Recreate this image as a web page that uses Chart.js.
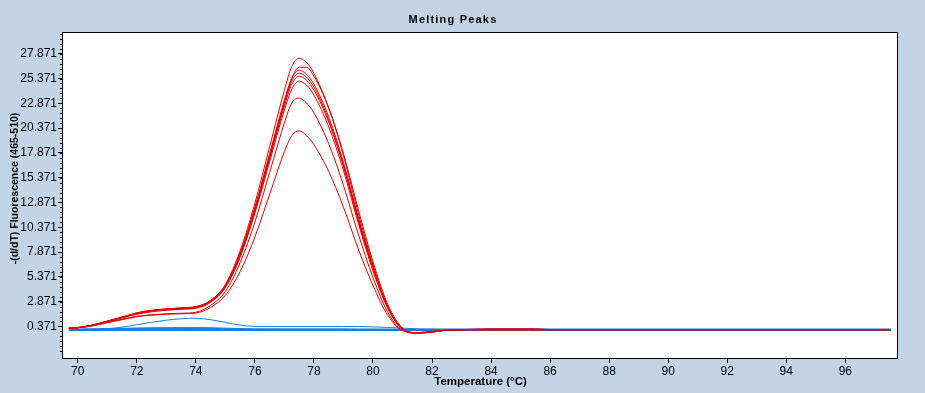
<!DOCTYPE html>
<html>
<head>
<meta charset="utf-8">
<script src="https://cdn.jsdelivr.net/npm/chart.js@4.4.1/dist/chart.umd.min.js"></script>
<style>
  html, body { margin: 0; padding: 0; background: #c3d4e4; }
  #wrap { width: 925px; height: 393px; }
</style>
</head>
<body>
<div id="wrap"><canvas id="cv" width="925" height="393"></canvas></div>
<script>
// temperature samples (deg C)
var redTemps = [69.7, 70, 70.5, 71, 71.5, 72, 72.5, 73, 73.5, 74,
  74.5, 75, 75.5, 76, 76.5, 77, 77.25, 77.5, 77.75, 78, 78.5, 79, 79.5, 80, 80.5, 81, 81.5, 82, 82.5,
  83, 84, 85.5, 86, 97.5];
var blueTemps = [69.7, 70, 70.5, 71, 71.5, 72, 72.5, 73, 73.5, 74, 74.5, 75, 75.5, 76, 77, 78, 79, 80, 81, 82, 83, 97.55];

// -(d/dT) values, red samples
var red1 = [0.2, 0.25, 0.5, 0.9, 1.3, 1.72, 1.98, 2.12, 2.22, 2.35,
  3.0, 4.6, 8.0, 12.8, 18.5, 24.2, 26.6, 27.4, 27.0, 25.9, 22.4, 17.6, 11.8, 6.6, 2.4, 0.1, -0.3, -0.2, 0.0,
  0.05, 0.05, 0.05, 0.05, 0.05];
var red2 = [0.22, 0.27, 0.52, 0.92, 1.32, 1.75, 2.0, 2.15, 2.25, 2.38,
  2.9, 4.3, 7.4, 12.0, 17.5, 23.0, 25.4, 26.5, 26.5, 25.6, 22.4, 17.8, 12.2, 6.9, 2.6, 0.2, -0.3, -0.2, 0.0,
  0.05, 0.15, 0.15, 0.05, 0.05];
var red3 = [0.18, 0.24, 0.48, 0.88, 1.28, 1.68, 1.95, 2.1, 2.2, 2.32,
  3.0, 4.5, 7.8, 12.4, 17.8, 23.2, 25.4, 26.2, 25.8, 24.8, 21.5, 16.9, 11.4, 6.4, 2.3, 0.1, -0.3, -0.15, 0.0,
  0.05, 0.05, 0.05, 0.05, 0.05];
var red4 = [0.2, 0.26, 0.5, 0.9, 1.3, 1.7, 1.96, 2.1, 2.2, 2.3,
  2.9, 4.4, 7.6, 12.2, 17.6, 22.9, 25.1, 25.9, 25.5, 24.5, 21.2, 16.7, 11.2, 6.3, 2.3, 0.1, -0.3, -0.2, 0.0,
  0.05, 0.05, 0.05, 0.05, 0.05];
var red5 = [0.19, 0.25, 0.49, 0.88, 1.27, 1.66, 1.92, 2.06, 2.16, 2.28,
  2.9, 4.4, 7.6, 12.0, 17.3, 22.6, 24.8, 25.6, 25.2, 24.2, 21.0, 16.5, 11.1, 6.2, 2.3, 0.1, -0.25, -0.15, 0.0,
  0.05, 0.05, 0.05, 0.05, 0.05];
var red6 = [0.2, 0.25, 0.47, 0.85, 1.22, 1.6, 1.85, 2.0, 2.1, 2.2,
  2.8, 4.3, 7.4, 11.8, 17.0, 22.2, 24.3, 25.1, 24.7, 23.7, 20.5, 16.1, 10.8, 6.0, 2.2, 0.1, -0.25, -0.15, 0.0,
  0.05, 0.05, 0.05, 0.05, 0.05];
var red7 = [0.2, 0.25, 0.45, 0.8, 1.1, 1.4, 1.55, 1.65, 1.7, 1.8,
  2.5, 3.9, 6.8, 10.9, 15.9, 20.9, 22.9, 23.4, 22.9, 21.9, 18.8, 14.6, 9.7, 5.3, 1.8, 0.0, -0.25, -0.15, 0.0,
  0.05, 0.05, 0.05, 0.05, 0.05];
var red8 = [0.2, 0.24, 0.42, 0.75, 1.05, 1.35, 1.5, 1.6, 1.65, 1.72,
  2.3, 3.5, 5.9, 9.4, 13.7, 18.0, 19.6, 20.1, 19.6, 18.7, 16.0, 12.4, 8.2, 4.5, 1.5, -0.05, -0.25, -0.15, 0.0,
  0.05, 0.05, 0.05, 0.05, 0.05];

// blue samples
var blue1 = [0.08, 0.08, 0.1, 0.15, 0.3, 0.55, 0.8, 1.0, 1.15, 1.2, 1.05, 0.78, 0.5, 0.38, 0.37, 0.37, 0.37, 0.33, 0.2, 0.08, 0.05, 0.05];
var blue2 = [0.1, 0.1, 0.12, 0.15, 0.18, 0.2, 0.22, 0.24, 0.25, 0.25, 0.24, 0.2, 0.16, 0.12, 0.1, 0.1, 0.1, 0.1, 0.08, 0.05, 0.05, 0.05];
var blue3 = [0.02, 0.02, 0.02, 0.02, 0.02, 0.02, 0.02, 0.02, 0.02, 0.02, 0.02, 0.02, 0.02, 0.02, 0.02, 0.02, 0.02, 0.02, 0.02, 0.02, 0.02, 0.02];
var blue4 = [0.07, 0.07, 0.07, 0.1, 0.14, 0.17, 0.19, 0.2, 0.2, 0.19, 0.16, 0.12, 0.1, 0.08, 0.08, 0.08, 0.08, 0.07, 0.07, 0.08, 0.08, 0.08];

var xTicks = [70, 72, 74, 76, 78, 80, 82, 84, 86, 88, 90, 92, 94, 96];
var yTicks = [0.371, 2.871, 5.371, 7.871, 10.371, 12.871, 15.371, 17.871, 20.371, 22.871, 25.371, 27.871];

var RED = '#e60000', BLUE = '#1f7bd6';
var FONT = "'Liberation Sans', Arial, sans-serif";

function pts(xs, ys) {
  return xs.map(function (x, i) { return { x: x, y: ys[i] }; });
}
function line(data, color, w) {
  return { data: data, borderColor: color, borderWidth: w || 1, pointRadius: 0,
    fill: false, cubicInterpolationMode: 'monotone' };
}

var datasets = [];
[red1, red2, red3, red4, red5, red6, red7, red8].forEach(function (r) { datasets.push(line(pts(redTemps, r), RED)); });
// blue after red so it is painted on top
datasets.push(line(pts(blueTemps, blue1), BLUE));
datasets.push(line(pts(blueTemps, blue2), BLUE));
datasets.push(line(pts(blueTemps, blue4), BLUE, 1.5));
datasets.push(line(pts(blueTemps, blue3), BLUE, 2));

var deco = {
  id: 'deco',
  beforeDraw: function (c) {
    var a = c.chartArea, ctx = c.ctx;
    ctx.save();
    ctx.fillStyle = '#ffffff';
    ctx.fillRect(a.left, a.top, a.right - a.left, a.bottom - a.top);
    ctx.restore();
  },
  afterDraw: function (c) {
    var a = c.chartArea, ctx = c.ctx, ys = c.scales.y;
    ctx.save();
    ctx.strokeStyle = '#000';
    ctx.lineWidth = 1;
    ctx.strokeRect(Math.round(a.left) - 0.5, Math.round(a.top) - 0.5,
      Math.round(a.right - a.left) + 1, Math.round(a.bottom - a.top) + 1);
    // minor ticks on y, every 0.5
    ctx.beginPath();
    for (var v = yTicks[0] - 2.5; v <= ys.max; v += 0.5) {
      var py = Math.round(ys.getPixelForValue(v)) + 0.5;
      if (py < a.top || py > a.bottom) continue;
      ctx.moveTo(a.left - 3, py);
      ctx.lineTo(a.left, py);
    }
    ctx.stroke();
    ctx.fillStyle = '#000';
    // title
    ctx.font = "bold 11px 'Liberation Sans', Arial, sans-serif";
    ctx.letterSpacing = '1.2px';
    ctx.textAlign = 'center';
    ctx.textBaseline = 'middle';
    ctx.fillText('Melting Peaks', 453, 20);
    ctx.letterSpacing = '0px';
    // x axis title
    ctx.font = "bold 11.5px 'Liberation Sans', Arial, sans-serif";
    ctx.fillText('Temperature (°C)', 480.5, 382);
    // y axis title
    ctx.translate(15, 188.5);
    ctx.rotate(-Math.PI / 2);
    ctx.font = "bold 10.5px 'Liberation Sans', Arial, sans-serif";
    ctx.fillText('-(d/dT) Fluorescence (465-510)', 0, 0);
    ctx.restore();
  }
};

new Chart(document.getElementById('cv'), {
  type: 'line',
  data: { datasets: datasets },
  options: {
    responsive: false,
    animation: false,
    devicePixelRatio: 1,
    layout: { padding: { left: 0, right: 28, top: 33, bottom: 0 } },
    plugins: { legend: { display: false }, tooltip: { enabled: false } },
    scales: {
      x: {
        type: 'linear', min: 69.5, max: 97.75,
        afterBuildTicks: function (s) { s.ticks = xTicks.map(function (v) { return { value: v }; }); },
        afterFit: function (s) { s.height = 35; },
        grid: { drawOnChartArea: false, drawTicks: true, tickLength: 5, color: '#000' },
        border: { display: false },
        ticks: { autoSkip: false, maxRotation: 0, padding: 1, color: '#000',
          font: { family: FONT, size: 12 } }
      },
      y: {
        type: 'linear', min: -2.81, max: 29.96,
        afterBuildTicks: function (s) { s.ticks = yTicks.map(function (v) { return { value: v }; }); },
        afterFit: function (s) { s.width = 63; },
        grid: { drawOnChartArea: false, drawTicks: true, tickLength: 5, color: '#000' },
        border: { display: false },
        ticks: { autoSkip: false, padding: 1, color: '#000',
          font: { family: FONT, size: 12 },
          callback: function (v) { return Number(v).toFixed(3); } }
      }
    }
  },
  plugins: [deco]
});
</script>
</body>
</html>
